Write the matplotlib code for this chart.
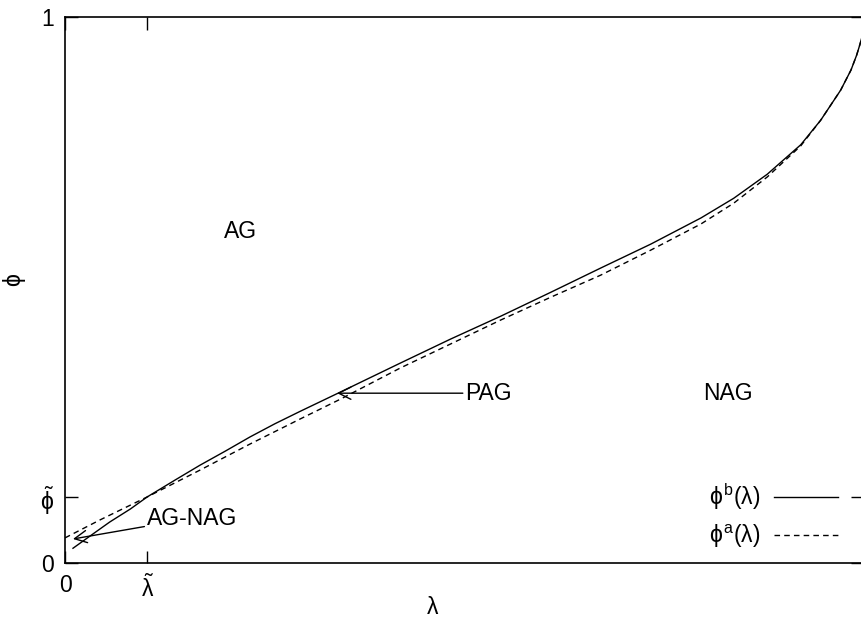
import matplotlib
matplotlib.use('Agg')
import matplotlib.pyplot as plt

plt.rcParams['font.family'] = ['Liberation Sans', 'DejaVu Sans']
plt.rcParams['mathtext.fontset'] = 'custom'
plt.rcParams['mathtext.rm'] = 'Liberation Sans'
plt.rcParams['mathtext.it'] = 'Liberation Sans'

# curve phi^b(lambda), solid
lam_b = [0.010, 0.031, 0.056, 0.082, 0.103, 0.138, 0.169, 0.201, 0.232, 0.263,
         0.295, 0.345, 0.420, 0.483, 0.546, 0.609, 0.671, 0.734, 0.797, 0.838,
         0.880, 0.922, 0.947, 0.972, 0.985, 0.992, 0.996, 0.999]
phi_b = [0.027, 0.049, 0.075, 0.099, 0.121, 0.152, 0.179, 0.205, 0.231, 0.255,
         0.278, 0.313, 0.366, 0.410, 0.452, 0.496, 0.540, 0.584, 0.632, 0.668,
         0.712, 0.766, 0.811, 0.866, 0.903, 0.930, 0.949, 0.965]

# curve phi^a(lambda), dashed
lam_a = [0.000, 0.044, 0.103, 0.169, 0.232, 0.295, 0.345, 0.420, 0.483, 0.546,
         0.609, 0.671, 0.734, 0.797, 0.838, 0.880, 0.922, 0.947, 0.972, 0.985,
         0.992, 0.996, 0.999]
phi_a = [0.046, 0.079, 0.121, 0.170, 0.218, 0.264, 0.300, 0.357, 0.401, 0.445,
         0.487, 0.527, 0.573, 0.621, 0.659, 0.707, 0.764, 0.811, 0.866, 0.903,
         0.930, 0.949, 0.965]

LAM_T = 0.103
PHI_T = 0.121

fig = plt.figure(figsize=(8.61, 6.23), dpi=100)
ax = fig.add_axes([65/861, 60/623, 798/861, 546/623])

ax.plot(lam_b, phi_b, color='k', lw=1.0, label=r'$\phi^{\rm b}(\lambda)$')
ax.plot(lam_a, phi_a, color='k', lw=1.0, ls=(0, (4, 3)), label=r'$\phi^{\rm a}(\lambda)$')

ax.set_xlim(0, 1)
ax.set_ylim(0, 1)
ax.set_xticks([0, LAM_T])
ax.set_xticklabels(['0', r'$\tilde{\lambda}$'])
ax.set_yticks([0, PHI_T, 1])
ax.set_yticklabels(['0', r'$\tilde{\phi}$', '1'])
ax.tick_params(direction='in', length=9, width=1.0, labelsize=16.5, pad=8,
               top=True, right=True)
for s in ax.spines.values():
    s.set_linewidth(1.2)

ax.set_xlabel(r'$\lambda$', fontsize=16.5, va='center')
ax.set_ylabel(r'$\phi$', fontsize=16.5, rotation=90, va='center')
ax.xaxis.set_label_coords(0.461, -0.081)
ax.yaxis.set_label_coords(-0.063, 0.518)

fs = 16.5
arrow = dict(arrowstyle='->', color='k', lw=1.0, shrinkA=0, shrinkB=0,
             mutation_scale=22)
ax.text(0.220, 0.607, 'AG', fontsize=fs, ha='center', va='center')
ax.text(0.831, 0.311, 'NAG', fontsize=fs, ha='center', va='center')
ax.annotate('PAG', xy=(0.341, 0.311), xytext=(0.502, 0.311), fontsize=fs,
            ha='left', va='center', arrowprops=arrow)
ax.annotate('AG-NAG', xy=(0.010, 0.044), xytext=(0.103, 0.082), fontsize=fs,
            ha='left', va='center', arrowprops=arrow)

ax.legend(loc='lower right', bbox_to_anchor=(0.983, 0.003), frameon=False,
          markerfirst=False, fontsize=fs, handlelength=2.8, labelspacing=0.45,
          handletextpad=0.6, borderpad=0)

fig.savefig('out.png', dpi=100)
